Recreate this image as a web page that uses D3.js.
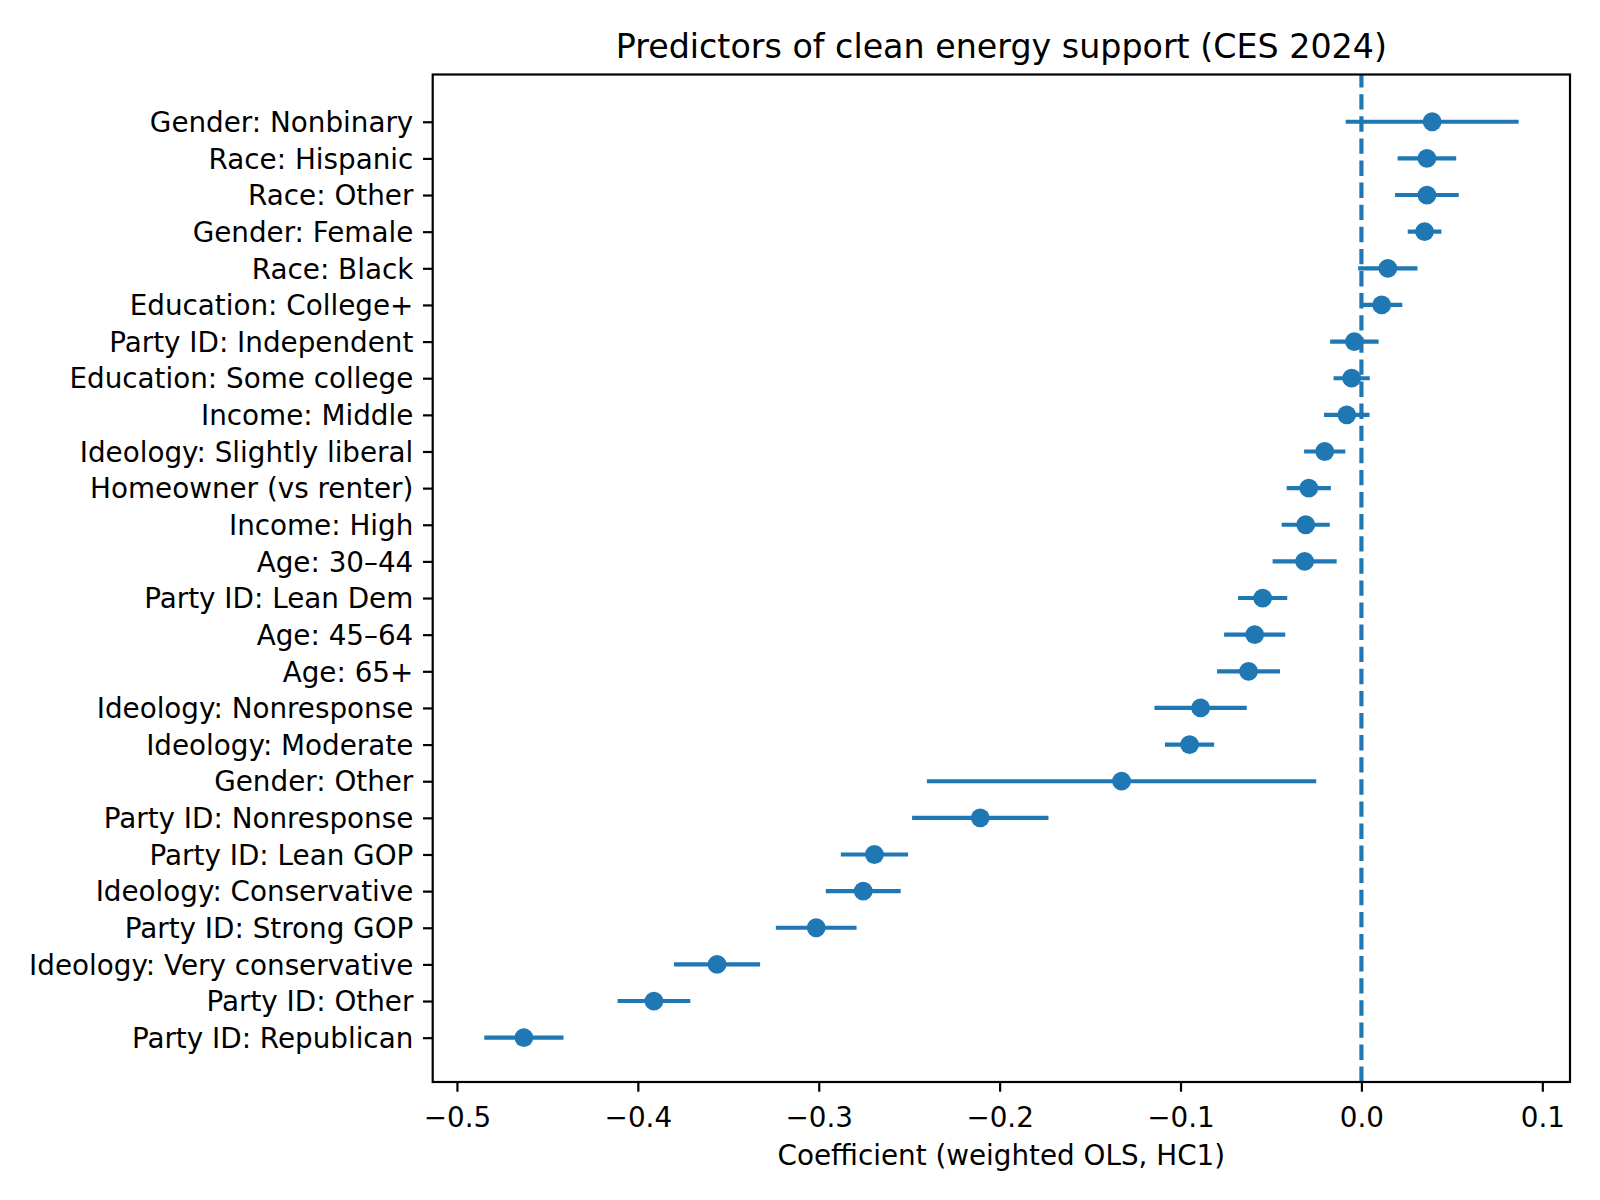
<!DOCTYPE html>
<html>
<head>
<meta charset="utf-8">
<script src="https://cdn.jsdelivr.net/npm/d3@7"></script>
<style>
  body { margin: 0; background: #fff; }
  svg { font-family: "DejaVu Sans", sans-serif; }
</style>
</head>
<body>
<svg id="canvas" width="1600" height="1200"></svg>
<script>
// predictors, top to bottom
let labels = [
  'Gender: Nonbinary', 'Race: Hispanic', 'Race: Other', 'Gender: Female', 'Race: Black',
  'Education: College+', 'Party ID: Independent', 'Education: Some college', 'Income: Middle',
  'Ideology: Slightly liberal', 'Homeowner (vs renter)', 'Income: High', 'Age: 30–44',
  'Party ID: Lean Dem', 'Age: 45–64', 'Age: 65+', 'Ideology: Nonresponse', 'Ideology: Moderate',
  'Gender: Other', 'Party ID: Nonresponse', 'Party ID: Lean GOP', 'Ideology: Conservative',
  'Party ID: Strong GOP', 'Ideology: Very conservative', 'Party ID: Other', 'Party ID: Republican'
]
let coefs = [
  0.0391, 0.0362, 0.0362, 0.0349, 0.0146,
  0.0112, -0.0039, -0.0054, -0.0081,
  -0.0203, -0.0291, -0.0308, -0.0314,
  -0.0546, -0.0590, -0.0624, -0.0889, -0.0950,
  -0.1326, -0.2107, -0.2692, -0.2754,
  -0.3014, -0.3562, -0.3911, -0.4630
]
// half width of the 95% interval
let halfCI = [
  0.0478, 0.0162, 0.0176, 0.0093, 0.0164,
  0.0114, 0.0134, 0.0100, 0.0126,
  0.0114, 0.0122, 0.0133, 0.0177,
  0.0136, 0.0169, 0.0174, 0.0255, 0.0136,
  0.1076, 0.0377, 0.0186, 0.0207,
  0.0223, 0.0238, 0.0201, 0.0219
]
let xTicks = [-0.5, -0.4, -0.3, -0.2, -0.1, 0.0, 0.1]

let blue = '#1f77b4'
let plotLeft = 432.7, plotRight = 1570, plotTop = 74.5, plotBottom = 1082

let canvas = d3.select('#canvas')

let xScale = d3.scaleLinear().domain([-0.5134, 0.1153]).range([plotLeft, plotRight])
let yScale = d3.scaleLinear().domain([-1.29, labels.length - 1 + 1.21]).range([plotTop, plotBottom])

let fmt = (d) => d3.format('.1f')(d).replace('-', '\u2212')

// title
canvas.append('text')
  .attr('x', (plotLeft + plotRight) / 2)
  .attr('y', 57.8)
  .attr('text-anchor', 'middle')
  .style('font-size', '33.3px')
  .text('Predictors of clean energy support (CES 2024)')

// error bars
canvas.selectAll('line.err')
  .data(labels)
  .enter()
  .append('line')
  .attr('class', 'err')
  .attr('x1', (d, i) => xScale(coefs[i] - halfCI[i]))
  .attr('x2', (d, i) => xScale(coefs[i] + halfCI[i]))
  .attr('y1', (d, i) => yScale(i))
  .attr('y2', (d, i) => yScale(i))
  .attr('stroke', blue)
  .attr('stroke-width', 4.17)

// zero reference line
canvas.append('line')
  .attr('x1', xScale(0)).attr('x2', xScale(0))
  .attr('y1', plotBottom).attr('y2', plotTop)
  .attr('stroke', blue)
  .attr('stroke-width', 4.17)
  .attr('stroke-dasharray', '15.4,6.7')

// point estimates
canvas.selectAll('circle.pt')
  .data(labels)
  .enter()
  .append('circle')
  .attr('class', 'pt')
  .attr('cx', (d, i) => xScale(coefs[i]))
  .attr('cy', (d, i) => yScale(i))
  .attr('r', 9.4)
  .attr('fill', blue)

// axes
let xAxis = d3.axisBottom(xScale)
  .tickValues(xTicks)
  .tickFormat(fmt)
  .tickSize(9.7)
  .tickPadding(9.7)
  .tickSizeOuter(0)

let yAxis = d3.axisLeft(yScale)
  .tickValues(d3.range(labels.length))
  .tickFormat((i) => labels[i])
  .tickSize(9.7)
  .tickPadding(9.7)
  .tickSizeOuter(0)

let gx = canvas.append('g')
  .attr('transform', 'translate(0,' + plotBottom + ')')
  .call(xAxis)
gx.select('.domain').remove()
gx.selectAll('text').attr('dy', '0.93em')

let gy = canvas.append('g')
  .attr('transform', 'translate(' + plotLeft + ',0)')
  .call(yAxis)
gy.select('.domain').remove()
gy.selectAll('text').attr('dy', '0.35em')

canvas.selectAll('.tick line').attr('stroke', '#000').attr('stroke-width', 2.2)
canvas.selectAll('.tick text')
  .attr('fill', '#000')
  .style('font-size', '27.8px')
  .style('font-family', '"DejaVu Sans", sans-serif')

// frame
canvas.append('rect')
  .attr('x', plotLeft).attr('y', plotTop)
  .attr('width', plotRight - plotLeft).attr('height', plotBottom - plotTop)
  .attr('fill', 'none')
  .attr('stroke', '#000')
  .attr('stroke-width', 2.2)

// x label
canvas.append('text')
  .attr('x', (plotLeft + plotRight) / 2)
  .attr('y', 1165)
  .attr('text-anchor', 'middle')
  .style('font-size', '27.8px')
  .text('Coefficient (weighted OLS, HC1)')
</script>
</body>
</html>
